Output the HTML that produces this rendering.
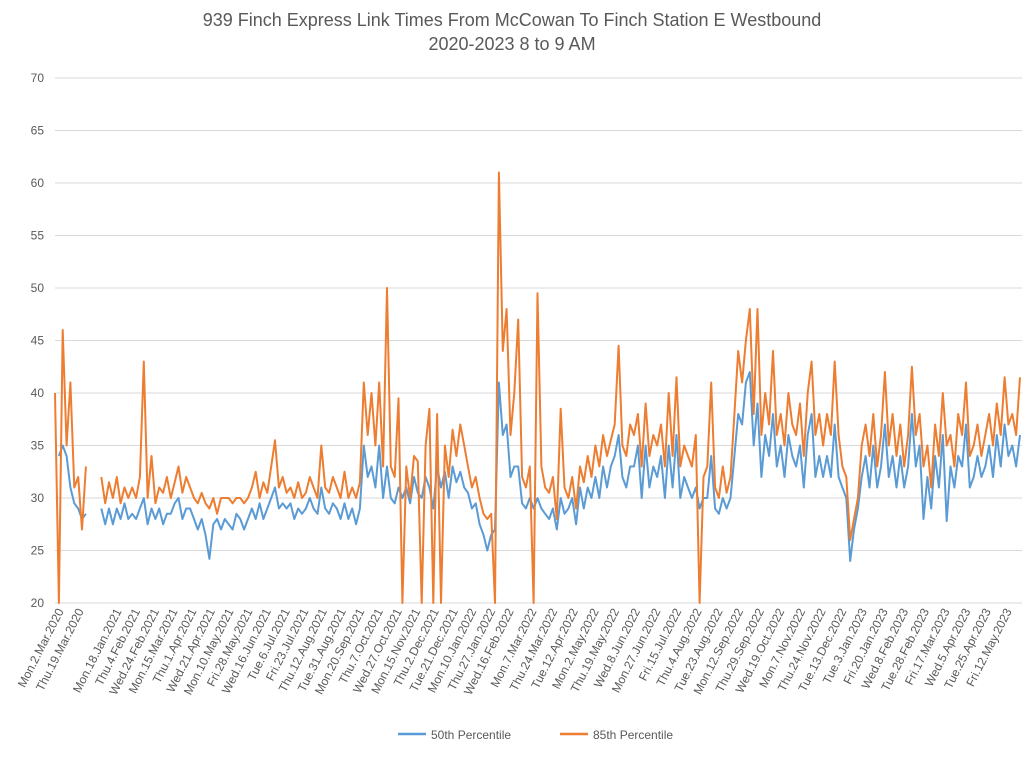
<!DOCTYPE html>
<html><head><meta charset="utf-8"><style>
body{margin:0;background:#fff;}
svg text{font-family:"Liberation Sans",sans-serif;fill:#595959;}
</style></head><body>
<svg id="chart" width="1024" height="754" xmlns="http://www.w3.org/2000/svg">
<text x="512" y="26" font-size="18" text-anchor="middle">939 Finch Express Link Times From McCowan To Finch Station E Westbound</text>
<text x="512" y="50" font-size="18" text-anchor="middle">2020-2023 8 to 9 AM</text>
<g id="grid"></g><g id="xlabels"></g><g id="series"></g>
<g>
<line x1="398" y1="734" x2="426" y2="734" stroke="#5b9bd5" stroke-width="2.5"/>
<text x="431" y="739" font-size="12">50th Percentile</text>
<line x1="560" y1="734" x2="588" y2="734" stroke="#ed7d31" stroke-width="2.5"/>
<text x="593" y="739" font-size="12">85th Percentile</text>
</g>
</svg>
<script>
const yTicks=[20,25,30,35,40,45,50,55,60,65,70];
const tickLabels=["Mon.2.Mar.2020","Thu.19.Mar.2020","Mon.18.Jan.2021","Thu.4.Feb.2021","Wed.24.Feb.2021","Mon.15.Mar.2021","Thu.1.Apr.2021","Wed.21.Apr.2021","Mon.10.May.2021","Fri.28.May.2021","Wed.16.Jun.2021","Tue.6.Jul.2021","Fri.23.Jul.2021","Thu.12.Aug.2021","Tue.31.Aug.2021","Mon.20.Sep.2021","Thu.7.Oct.2021","Wed.27.Oct.2021","Mon.15.Nov.2021","Thu.2.Dec.2021","Tue.21.Dec.2021","Mon.10.Jan.2022","Thu.27.Jan.2022","Wed.16.Feb.2022","Mon.7.Mar.2022","Thu.24.Mar.2022","Tue.12.Apr.2022","Mon.2.May.2022","Thu.19.May.2022","Wed.8.Jun.2022","Mon.27.Jun.2022","Fri.15.Jul.2022","Thu.4.Aug.2022","Tue.23.Aug.2022","Mon.12.Sep.2022","Thu.29.Sep.2022","Wed.19.Oct.2022","Mon.7.Nov.2022","Thu.24.Nov.2022","Tue.13.Dec.2022","Tue.3.Jan.2023","Fri.20.Jan.2023","Wed.8.Feb.2023","Tue.28.Feb.2023","Fri.17.Mar.2023","Wed.5.Apr.2023","Tue.25.Apr.2023","Fri.12.May.2023"];
const tickIndex=[1.3,6.5,16.3,21.1,26,30.8,35.7,40.5,45.3,50.2,55,59.9,64.7,69.5,74.4,79.2,84,88.9,93.7,98.5,103.4,108.2,113.1,117.9,123.8,129.2,134.5,139.9,145.2,150.6,155.9,161.3,166.6,172,177.3,182.7,188,193.4,198.7,204.1,209.4,214.8,220.1,225.5,230.8,236.2,241.5,246.9];
const p85=[40,20,46,35,41,31,32,27,33,null,null,null,
32,29.5,31.5,30,32,29.5,31,30,
31,30,32,43,30,34,29.5,31,30.5,32,
30,31.5,33,30.5,32,31,30,29.5,30.5,29.5,
29,30,28.5,30,30,30,29.5,30,30,29.5,
30,31,32.5,30,31.5,30.5,33,35.5,31,32,
30.5,31,30,31.5,30,30.5,32,31,30,35,
31,30.5,32,31,30,32.5,30,31,30,31.5,
41,36,40,35,41,33,50,33,32,39.5,
20,33,30,34,33.5,20,35,38.5,20,38,
20,35,32,36.5,34,37,35,33,31,32,
30,28.5,28,28.5,20,61,44,48,36,40,
47,32,31,33,20,49.5,33,31,30.5,32,
28,38.5,31,30,32,29,33,31.5,34,32,
35,33,36,34,35.5,37,44.5,35,34,37,
36,38,33,39,34,36,35,37,33,40,
34,41.5,33,35,34,33,36,20,32,33,
41,31,30,33,30.5,32,38,44,41,45,
48,38,48,36,40,37,44,36,38,35,
40,37,36,39,34,40,43,36,38,35,
38,36,43,36,33,32,26,28,30,35,
37,34,38,33,36,42,35,38,34,37,
33,36,42.5,36,38,33,35,31,37,34,
40,35,36,33,38,36,41,34,35,37,
34,36,38,35,39,36,41.5,37,38,36,41.5];
const p50=[null,34,35,34,31,29.5,29,28,28.5,null,null,null,
29,27.5,29,27.5,29,28,29.5,28,
28.5,28,29,30,27.5,29,28,29,27.5,28.5,
28.5,29.5,30,28,29,29,28,27,28,26.5,
24.2,27.5,28,27,28,27.5,27,28.5,28,27,
28,29,28,29.5,28,29,30,31,29,29.5,
29,29.5,28,29,28.5,29,30,29,28.5,31,
29,28.5,29.5,29,28,29.5,28,29,27.5,29,
35,32,33,31,35,30,33,30,29.5,31,
30,31,29.5,32,30.5,30,32,31,29,33,
31,32.5,30,33,31.5,32.5,31,30.5,29,29.5,
27.5,26.5,25,26.5,27,41,36,37,32,33,
33,29.5,29,30,29,30,29,28.5,28,29,
27,30,28.5,29,30,27.5,31,29,31,30,
32,30,33,31,33,34,36,32,31,33,
33,35,30,35,31,33,32,34,30,35,
31,36,30,32,31,30,31,29,30,30,
34,29,28.5,30,29,30,34,38,37,41,
42,35,39,32,36,34,38,33,35,32,
36,34,33,35,31,36,38,32,34,32,
34,32,37,32,31,30,24,27,29,32,
34,31,35,31,33,37,32,34,31,34,
31,33,38,33,35,28,32,29,34,31,
36,27.8,33,31,34,33,37,31,32,34,
32,33,35,32,36,33,37,34,35,33,36];

const NS="http://www.w3.org/2000/svg";
const X0=55,X1=1020,Y0=603,Y1=78,YMIN=20,YMAX=70;
const N=p85.length;
function xs(i){return X0+i*(X1-X0)/(N-1);}
function ys(v){return Y0-(v-YMIN)*(Y0-Y1)/(YMAX-YMIN);}
function mk(t,a,parent){const e=document.createElementNS(NS,t);for(const k in a)e.setAttribute(k,a[k]);parent.appendChild(e);return e;}
const grid=document.getElementById('grid');
yTicks.forEach(v=>{
  const l=mk('line',{x1:X0,x2:1022,y1:ys(v),y2:ys(v),stroke:'#d9d9d9','stroke-width':1},grid);
  
  
  const t=mk('text',{x:44,y:ys(v)+4,'font-size':12,'text-anchor':'end'},grid);
  t.textContent=v;
  
  
});
const xl=document.getElementById('xlabels');
tickLabels.forEach((s,k)=>{
  const x=xs(tickIndex[k]);
  const t=mk('text',{x:0,y:0,'font-size':12,'text-anchor':'end',transform:`translate(${x+4},${611}) rotate(-63)`},xl);
  t.textContent=s;
  
  
});
function path(arr){
  let d='',pen=false;
  arr.forEach((v,i)=>{
    if(v===null){pen=false;return;}
    d+=(pen?'L':'M')+xs(i).toFixed(1)+','+ys(v).toFixed(1);pen=true;
  });
  return d;
}
const sg=document.getElementById('series');
const b=mk('path',{d:path(p50),fill:'none',stroke:'#5b9bd5','stroke-width':2,'stroke-linejoin':'round'},sg);


const o=mk('path',{d:path(p85),fill:'none',stroke:'#ed7d31','stroke-width':2,'stroke-linejoin':'round'},sg);


</script>
</body></html>
